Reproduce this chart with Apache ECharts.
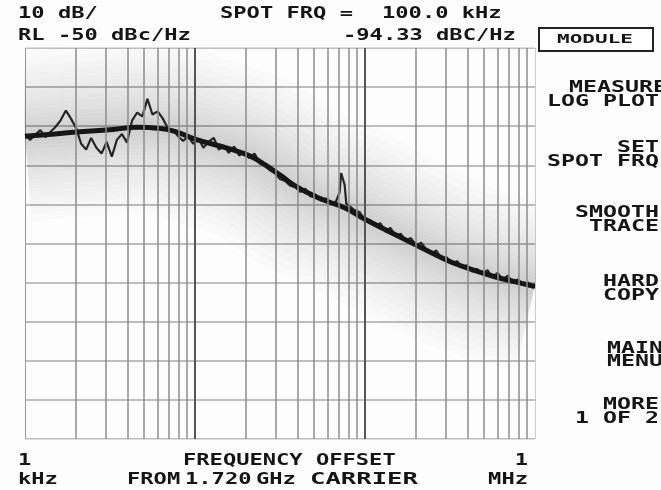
<!DOCTYPE html>
<html>
<head>
<meta charset="utf-8">
<script src="https://cdn.jsdelivr.net/npm/echarts@6/dist/echarts.min.js"></script>
<style>
html, body { margin: 0; padding: 0; background: #fdfdfd; }
#main { width: 661px; height: 490px; }
</style>
</head>
<body>
<div id="main"></div>
<script>
// offset frequency in kHz, raw trace level in dBc/Hz
var freqs = [1.00, 1.07, 1.15, 1.23, 1.32, 1.41, 1.51, 1.62, 1.74, 1.86,
  2.00, 2.14, 2.29, 2.45, 2.63, 2.82, 3.02, 3.24, 3.47, 3.72,
  3.98, 4.27, 4.57, 4.90, 5.25, 5.62, 6.03, 6.46, 6.92, 7.41,
  7.94, 8.51, 9.12, 9.77, 10.5, 11.2, 12.0, 12.9, 13.8, 14.8,
  15.8, 17.0, 18.2, 19.5, 20.9, 22.4, 24.0, 25.7, 27.5, 29.5,
  31.6, 33.9, 36.3, 38.9, 41.7, 44.7, 47.9, 51.3, 55.0, 58.9,
  63.1, 67.6, 70.8, 72.4, 74.1, 75.9, 77.6, 81.3, 87.1, 93.3,
  100, 107, 115, 123, 132, 141, 151, 162, 174, 186,
  200, 214, 229, 245, 263, 282, 302, 324, 347, 372,
  398, 427, 457, 490, 525, 562, 603, 646, 692, 741,
  794, 851, 912, 977, 1000];
var noiseLevels = [-72.0, -73.5, -72.2, -71.0, -72.8, -71.5, -70.2, -68.5, -66.0, -68.0,
  -70.5, -74.5, -76.0, -73.0, -75.5, -77.0, -74.0, -77.8, -73.5, -72.0,
  -74.2, -68.5, -66.5, -67.5, -63.0, -67.0, -66.2, -68.0, -70.5, -71.0,
  -72.5, -73.8, -72.6, -74.5, -73.2, -75.5, -74.0, -73.0, -76.0, -75.0,
  -76.8, -75.2, -77.5, -76.5, -78.2, -77.0, -79.5, -80.0, -81.2, -82.0,
  -83.5, -84.0, -85.2, -85.5, -86.8, -86.0, -88.0, -87.5, -89.0, -88.5,
  -90.0, -89.2, -87.0, -82.0, -81.5, -85.0, -89.8, -90.5, -91.5, -92.0,
  -94.3, -94.0, -95.5, -94.8, -97.0, -96.0, -98.0, -97.5, -99.2, -98.6,
  -100.5, -99.8, -101.5, -102.6, -101.8, -104.0, -103.5, -105.2, -104.5, -106.0,
  -105.6, -107.2, -106.5, -107.8, -106.8, -108.6, -107.5, -109.3, -108.2, -110.0,
  -109.2, -110.5, -110.0, -111.2, -111.0];

// smoothed trace
var smoothFreqs = [1, 1.5, 2, 3, 4.7, 6, 7.6, 10, 16, 21, 24, 32, 38, 50, 60, 77, 100, 163, 250, 323, 450, 580, 800, 1000];
var smoothLevels = [-72.6, -72.0, -71.5, -71.0, -70.3, -70.5, -71.3, -73.3, -75.8, -77.6, -79.0, -82.6, -85.0, -87.8, -89.2, -91.0, -93.8, -98.5, -102.5, -104.8, -107.0, -108.5, -110.0, -111.0];

var minorLines = [2, 3, 4, 5, 6, 7, 8, 9, 20, 30, 40, 50, 60, 70, 80, 90, 200, 300, 400, 500, 600, 700, 800, 900];
var decadeLines = [10, 100];

var menuItems = [
  ['MEASURE', 667, 88], ['LOG PLOT', 659, 102],
  ['SET', 659, 148], ['SPOT FRQ', 659, 162],
  ['SMOOTH', 659, 213], ['TRACE', 659, 227],
  ['HARD', 659, 282], ['COPY', 659, 296],
  ['MAIN', 663, 349], ['MENU', 663, 362],
  ['MORE', 659, 405], ['1 OF 2', 659, 419]
];

// widths of the soft haze bands round the trace
var hazeWidths = [170, 155, 140, 126, 112, 99, 87, 75, 64, 54, 44, 35, 27, 19, 12];

var FONT = 'bold 16px "DejaVu Sans Mono"';
var SX = 1.38;
var BG = '#fdfdfd';

function pairs(xs, ys) {
  return xs.map(function (x, i) { return [x, ys[i]]; });
}

function txt(str, x, y, align, size, sx) {
  return {
    type: 'text', x: x, y: y, scaleX: sx || SX, z: 10,
    style: {
      text: str,
      font: size ? 'bold ' + size + 'px "DejaVu Sans Mono"' : FONT,
      fill: '#151515',
      align: align || 'left', textAlign: align || 'left',
      verticalAlign: 'middle', textVerticalAlign: 'middle'
    }
  };
}

function mask(x, y, w, h) {
  return { type: 'rect', z: 5, silent: true, shape: { x: x, y: y, width: w, height: h }, style: { fill: BG } };
}

var lineMarks = minorLines.map(function (f) { return { xAxis: f }; })
  .concat(decadeLines.map(function (f) {
    return { xAxis: f, lineStyle: { color: '#555', width: 2, type: 'solid' } };
  }));

var graphics = [
  // keep the haze inside the plot area
  mask(0, 0, 24.5, 490),
  mask(535.5, 0, 125.5, 490),
  mask(0, 0, 661, 47.5),
  mask(0, 439.5, 661, 50.5),
  txt('10 dB/', 18, 14),
  txt('RL -50 dBc/Hz', 18, 36),
  txt('SPOT FRQ =', 220, 14),
  txt('100.0 kHz', 382, 14),
  txt('-94.33 dBC/Hz', 343, 36),
  {
    type: 'rect', z: 10,
    shape: { x: 539, y: 28, width: 114, height: 23 },
    style: { fill: '#fff', stroke: '#222', lineWidth: 2 }
  },
  txt('MODULE', 595, 40, 'center', 12, 1.75),
  txt('1', 18, 461),
  txt('kHz', 18, 480),
  txt('FREQUENCY OFFSET', 183, 461),
  txt('FROM', 127, 480),
  txt('1.720', 185, 480),
  txt('GHz', 256, 480),
  txt('CARRIER', 310, 480, 'left', 16, 1.6),
  txt('1', 528, 461, 'right'),
  txt('MHz', 528, 480, 'right')
].concat(menuItems.map(function (m) { return txt(m[0], m[1], m[2], 'right', 15, 1.55); }));

var hazeSeries = hazeWidths.map(function (w) {
  return {
    type: 'line', data: pairs(smoothFreqs, smoothLevels), smooth: true, symbol: 'none', silent: true, z: 1,
    lineStyle: { color: 'rgba(0,0,0,0.013)', width: w, cap: 'butt' }
  };
});

var myChart = echarts.init(document.getElementById('main'));
myChart.setOption({
  backgroundColor: BG,
  animation: false,
  grid: { left: 25, right: 126, top: 48, bottom: 51 },
  xAxis: {
    type: 'log', logBase: 10, min: 1, max: 1000,
    axisLine: { show: false }, axisTick: { show: false }, axisLabel: { show: false },
    splitLine: { show: true, lineStyle: { color: '#9a9a9a', width: 1 } }
  },
  yAxis: {
    type: 'value', min: -150, max: -50, interval: 10,
    axisLine: { show: false }, axisTick: { show: false }, axisLabel: { show: false },
    splitLine: { show: true, lineStyle: { color: '#a8a8a8', width: 1.5 } }
  },
  series: hazeSeries.concat([
    {
      // grid lines
      type: 'line', data: [], z: 2,
      markLine: {
        silent: true, symbol: 'none', label: { show: false },
        lineStyle: { color: '#8c8c8c', width: 1.5, type: 'solid' },
        data: lineMarks
      }
    },
    {
      type: 'line', data: pairs(freqs, noiseLevels), symbol: 'none', z: 3,
      lineStyle: { color: '#262626', width: 2.2 }
    },
    {
      type: 'line', data: pairs(smoothFreqs, smoothLevels), smooth: true, symbol: 'none', z: 4,
      lineStyle: { color: '#161616', width: 5 }
    }
  ]),
  graphic: graphics
});
</script>
</body>
</html>
